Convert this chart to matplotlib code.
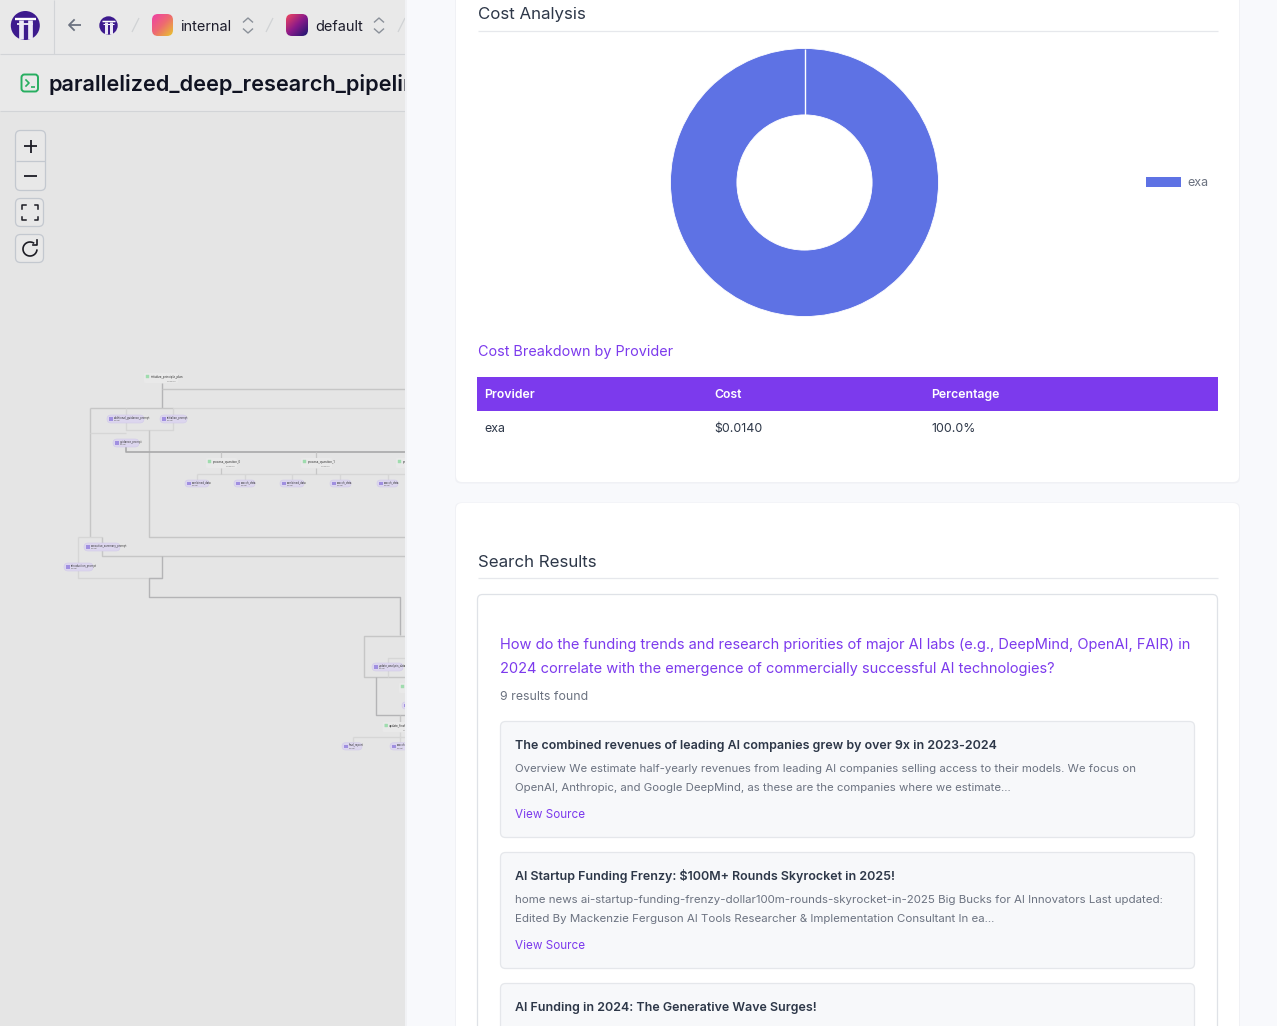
import numpy as np
import matplotlib
matplotlib.use("Agg")
import matplotlib.pyplot as plt
from matplotlib.patches import FancyBboxPatch, Rectangle, Circle

plt.rcParams['font.family'] = ['Inter', 'DejaVu Sans']

W, H = 1277, 1026
providers = ['exa']
costs = [0.0140]
shares = ['100.0%']
table_headers = ['Provider', 'Cost', 'Percentage']
query = ['How do the funding trends and research priorities of major AI labs (e.g., DeepMind, OpenAI, FAIR) in',
         '2024 correlate with the emergence of commercially successful AI technologies?']
result_titles = ['The combined revenues of leading AI companies grew by over 9x in 2023-2024',
                 'AI Startup Funding Frenzy: $100M+ Rounds Skyrocket in 2025!',
                 'AI Funding in 2024: The Generative Wave Surges!']
result_lines = [['Overview We estimate half-yearly revenues from leading AI companies selling access to their models. We focus on',
                 'OpenAI, Anthropic, and Google DeepMind, as these are the companies where we estimate...'],
                ['home news ai-startup-funding-frenzy-dollar100m-rounds-skyrocket-in-2025 Big Bucks for AI Innovators Last updated:',
                 'Edited By Mackenzie Ferguson AI Tools Researcher & Implementation Consultant In ea...']]

PX = 0.72
fig = plt.figure(figsize=(W / 100, H / 100), dpi=100, facecolor='#f8f9fc')
ax = fig.add_axes([0, 0, 1, 1])
ax.set_xlim(0, W); ax.set_ylim(H, 0); ax.axis('off')


def T(x, y, s, px=13, c='#1f2937', w='normal', z=8, ha='left', **k):
    return ax.text(x, y + 0.36 * px, s, fontsize=px * PX, color=c, weight=w, zorder=z, ha=ha, va='baseline', **k)


def R(x0, y0, x1, y1, fc='none', ec='none', lw=1, r=0, z=2):
    if r:
        p = FancyBboxPatch((x0 + r, y0 + r), x1 - x0 - 2 * r, y1 - y0 - 2 * r,
                           boxstyle=f'round,pad={r},rounding_size={r}', fc=fc, ec=ec, lw=lw, zorder=z)
    else:
        p = Rectangle((x0, y0), x1 - x0, y1 - y0, fc=fc, ec=ec, lw=lw, zorder=z)
    ax.add_patch(p)
    return p


def L(xs, ys, c='#bdbdbd', lw=1.0, z=2):
    ax.plot(xs, ys, color=c, lw=lw, zorder=z, solid_capstyle='butt', solid_joinstyle='round')


def gradient(x0, y0, x1, y1, colors, r=5):
    from matplotlib.colors import LinearSegmentedColormap
    cm = LinearSegmentedColormap.from_list('g', colors)
    g = np.add.outer(np.linspace(0, 1, 40), np.linspace(0, 1, 40)) / 2
    im = ax.imshow(g, extent=(x0, x1, y1, y0), cmap=cm, zorder=3, aspect='auto', interpolation='bilinear')
    clip = R(x0, y0, x1, y1, r=r, z=0)
    im.set_clip_path(clip)


# ---- left panel
R(0, 0, 405, H, fc='#e5e5e5', z=1)
R(0, 0, 405, 111, fc='#e9e9e9', z=1)
L([0, 405], [54, 54], '#d2d4d7', .8)
L([0, 405], [111, 111], '#d2d4d7', .8)
L([54, 54], [0, 54], '#d2d4d7', .8)


def torii(cx, cy, r, z=3):
    ax.add_patch(Circle((cx, cy), r, fc='#3d1a8e', ec='none', zorder=z))
    s = r / 14.5
    L([cx - 10.5 * s, cx + 10.5 * s], [cy - 6.5 * s] * 2, 'white', 1.7 * s, z + 1)
    L([cx - 8 * s, cx + 8 * s], [cy - 2 * s] * 2, 'white', 1.2 * s, z + 1)
    for dx in (-4.5, 4.5):
        L([cx + dx * s] * 2, [cy - 6 * s, cy + r * .95], '#ece8f6', 3.4 * s, z + 1)


torii(25.3, 25.5, 14.5)
torii(108.5, 25.5, 9.2)
L([81, 69], [25, 25], '#6b7280', 1.3)
ax.plot([74, 69, 74], [20, 25, 30], color='#6b7280', lw=1.3, zorder=3)
for x in (132, 266, 398):
    L([x, x + 7], [32, 18], '#d0d2d5', .9)
gradient(152, 14, 173, 36, ['#ee3fa6', '#ee6b70', '#e8c52c'], r=6)
gradient(286, 14, 308, 36, ['#f0455f', '#8a1a8a', '#1a1670'], r=6)
T(180.5, 25.5, 'internal', 14.5, '#1b1b2a', z=3)
T(315, 25.5, 'default', 14.5, '#1b1b2a', z=3)
for x in (248, 379):
    ax.plot([x - 4.5, x, x + 4.5], [22, 18, 22], color='#8a9099', lw=1, zorder=3)
    ax.plot([x - 4.5, x, x + 4.5], [29, 33, 29], color='#8a9099', lw=1, zorder=3)

R(21.5, 74.5, 38, 91.5, ec='#27ae60', lw=1.4, r=3, z=3)
ax.plot([26, 29, 26], [80, 83, 86], color='#27ae60', lw=1.2, zorder=3)
L([30.5, 35], [86.5, 86.5], '#27ae60', 1.2, 3)
T(48, 83, 'parallelized_deep_research_pipeline', 21.7, '#101322', w='semibold', z=3)

R(15.5, 130.5, 45.5, 190.5, fc='#e8e8e8', ec='#c3c8cf', lw=.9, r=5, z=3)
L([16, 45], [160.5, 160.5], '#c3c8cf', .9, 3)
L([24, 37], [146, 146], '#1c1c24', 1.3, 4)
L([30.5, 30.5], [139.5, 152.5], '#1c1c24', 1.3, 4)
L([24, 37], [176, 176], '#1c1c24', 1.3, 4)
R(15.5, 198.5, 43.5, 226.5, fc='#e8e8e8', ec='#c3c8cf', lw=.9, r=5, z=3)
R(15.5, 234.5, 43.5, 262.5, fc='#e8e8e8', ec='#c3c8cf', lw=.9, r=5, z=3)
for sx, sy in ((1, 1), (-1, 1), (1, -1), (-1, -1)):
    cx, cy = 30 + sx * 8, 212.5 + sy * 7.5
    ax.plot([cx, cx, cx - sx * 3.5], [cy - sy * 3.5, cy, cy], color='#1c1c24', lw=1.1, zorder=4)
t = np.radians(np.linspace(10, 300, 60))
ax.plot(30 + 7 * np.cos(t), 249 + 7 * np.sin(t), color='#1c1c24', lw=1.2, zorder=4)
ax.plot([32.5, 37, 37], [244.5, 244.5, 240], color='#1c1c24', lw=1.2, zorder=4)

# pipeline graph
dark, mid, light = '#b4b4b6', '#c6c6c6', '#d6d6d6'
segments = [
    ([161.7, 161.7], [383, 407.7], dark, 1.0),
    ([161.7, 405], [389, 389], mid, 1.0),
    ([90, 173], [407.7, 407.7], mid, 1.0),
    ([173, 405], [407.7, 407.7], light, 1.0),
    ([90, 90], [407.7, 537], mid, 1.0),
    ([90, 126], [432.7, 432.7], light, 1.0),
    ([125.7, 125.7, 173.3, 173.3], [408, 430, 430, 408], light, 1.0),
    ([149.3, 149.3, 405], [430, 537, 537], mid, 1.0),
    ([126, 126, 405], [447, 451.7, 451.7], '#a8a8aa', 1.2),
    ([221, 221], [452, 458], mid, .9),
    ([316, 316], [452, 458], mid, .9),
    ([196.7, 405], [474, 474], light, 1.0),
    ([221, 221], [468, 474], mid, .9),
    ([316, 316], [468, 474], mid, .9),
    ([78.3, 102.3], [537.3, 537.3], light, 1.0),
    ([78.3, 78.3, 161.7], [537.3, 578.3, 578.3], light, 1.0),
    ([102.3, 102.3, 405], [537.3, 556, 556], mid, 1.0),
    ([161.7, 161.7, 149.3, 149.3, 400.3, 400.3], [556, 578.3, 578.3, 597.3, 597.3, 635], dark, 1.0),
    ([405, 364.3, 364.3, 405], [635.7, 635.7, 676.7, 676.7], mid, 1.0),
    ([405, 388.3, 388.3], [657.7, 657.7, 676.7], light, 1.0),
    ([376.3, 376.3, 405], [676.7, 715, 715], dark, 1.0),
    ([400.3, 400.3], [715, 722], mid, 1.0),
    ([352.7, 352.7], [736.7, 743], light, 1.0),
    ([352.7, 405], [736.7, 736.7], light, 1.0),
    ([400.3, 400.3], [732, 743], light, 1.0),
]
for x, y, c, lw in segments:
    L(x, y, c, lw)
for x in (196.7, 244.7, 292.3, 340, 387.7):
    L([x, x], [474, 481], light, 1.0)

tasks = [(144, 178, 373, 383, 'initialize_principle_plan'), (206, 237, 458, 468, 'process_question_0'),
         (301, 332, 458, 468, 'process_question_1'), (396, 420, 458, 468, 'process_question_2'),
         (382.7, 414, 722, 732, 'update_final'), (399, 420, 683, 693, 'process')]
for x0, x1, y0, y1, s in tasks:
    R(x0, y0, x1, y1, fc='#e9e9e9', ec='none', r=1.5, z=3)
    R(x0 + 1.8, y0 + 1.8, x0 + 5.2, y0 + 5.2, fc='#9fdcae', r=.5, z=4)
    T(x0 + 6.5, y0 + 3.5, s, 3, '#333333', z=4)
    T(x1 - 2, y1 - 2, 'chain 0s', 2.2, '#777777', z=4, ha='right')
pills = [(107, 144, 415, 423, 'additional_guidance_prompt'), (160, 187, 415, 423, 'initialize_prompt'),
         (113, 139, 439, 447, 'guidance_prompt'), (185, 209, 480, 487, 'combined_data'),
         (234, 255, 480, 487, 'search_data'), (280, 304, 480, 487, 'combined_data'),
         (330, 351, 480, 487, 'search_data'), (377, 398, 480, 487, 'search_data'),
         (84, 120, 543, 551, 'executive_summary_prompt'), (64, 93, 563, 571, 'introduction_prompt'),
         (372, 403, 663, 671, 'update_analysis_data'), (342, 362, 742.7, 750, 'final_report'),
         (390, 412, 742.7, 750, 'search'), (402, 420, 702, 709, 'data')]
for x0, x1, y0, y1, s in pills:
    R(x0, y0, x1, y1, fc='#dcd6ee', ec='#d2cbea', lw=.4, r=(y1 - y0) / 2, z=3)
    R(x0 + 2.3, (y0 + y1) / 2 - 1.7, x0 + 5.7, (y0 + y1) / 2 + 1.7, fc='#a08fe0', z=4)
    T(x0 + 7, (y0 + y1) / 2 - 1.2, s, 2.7, '#333333', z=4)
    T(x0 + 7, (y0 + y1) / 2 + 1.6, 'Prompt', 2, '#777777', z=4)

# ---- right panel
R(405, 0, W, H, fc='#f8f9fc', z=5)
R(404.5, 0, 407, H, fc='#f1f2f5', z=5)
R(455, -20, 1240, 483.5, fc='#f0f1f5', r=6, z=5)
R(455, 502.5, 1240, H + 30, fc='#f0f1f5', r=6, z=5)
R(456, -20, 1239, 482, fc='white', r=6, z=6)
R(456, 503, 1239, H + 30, fc='white', r=6, z=6)

T(478, 13, 'Cost Analysis', 16.9, '#2d3748')
L([478, 1218], [31, 31], '#e6e8ec', .9, 7)
T(478, 351, 'Cost Breakdown by Provider', 14.4, '#7c3aed')
R(477, 377, 1218, 411, fc='#7c3aed', z=7)
col_x = [484.5, 714.5, 931.5]
for x, s in zip(col_x, table_headers):
    T(x, 393.5, s, 12.3, 'white', w='semibold')
for x, s in zip(col_x, [providers[0], f'${costs[0]:.4f}', shares[0]]):
    T(x, 427.5, s, 12.4, '#2d3748')

T(478, 561, 'Search Results', 16.9, '#2d3748')
L([478, 1218], [578, 578], '#e6e8ec', .9, 7)
R(477.5, 594.5, 1217.5, H + 30, fc='white', ec='#dfe2e7', lw=.9, r=5, z=7)
T(500.5, 644, query[0], 14.63, '#7c3aed')
T(500.5, 668, query[1], 14.63, '#7c3aed')
T(500.5, 696, '9 results found', 12.3, '#6b7280')

card_top = [721.5, 852.5, 983.5]
desc_px = [11.42, 11.52]
for i, (top, title) in enumerate(zip(card_top, result_titles)):
    R(500.5, top, 1194.5, top + 116 if i < 2 else H + 30, fc='#f7f8fa', ec='#e5e7eb', lw=.9, r=5, z=7)
    T(515, top + 23.5, title, 12.45, '#2d3748', w='semibold')
    if i < 2:
        T(515, top + 46.4, result_lines[i][0], desc_px[i], '#6b7280')
        T(515, top + 65.4, result_lines[i][1], desc_px[i], '#6b7280')
        T(515, top + 92.5, 'View Source', 11.7, '#7c3aed')

# ---- donut
cx, cy, rad, inner = 804.5, 182.5, 134.0, 67.6
pax = fig.add_axes([(cx - rad) / W, 1 - (cy + rad) / H, 2 * rad / W, 2 * rad / H], zorder=3)
pax.patch.set_alpha(0)
wedges, _ = pax.pie(costs, radius=1, startangle=90, counterclock=False, colors=['#5e72e4'],
                    wedgeprops=dict(width=1 - inner / rad, ec='white', lw=.6))
pax.set_xlim(-1, 1); pax.set_ylim(-1, 1)
pax.plot([0, 0], [inner / rad, 1], color='white', lw=1.0, solid_capstyle='butt')
leg = fig.legend(wedges, providers, loc='center left', bbox_to_anchor=(1146 / W, 1 - 183.2 / H), frameon=False,
                 fontsize=12.5 * PX, labelcolor='#6b7280', handlelength=2.8, handleheight=.88,
                 handletextpad=.5, borderpad=0, borderaxespad=0)
leg.legend_handles[0].set_edgecolor('none')

fig.savefig('out.png', dpi=100, facecolor=fig.get_facecolor())
